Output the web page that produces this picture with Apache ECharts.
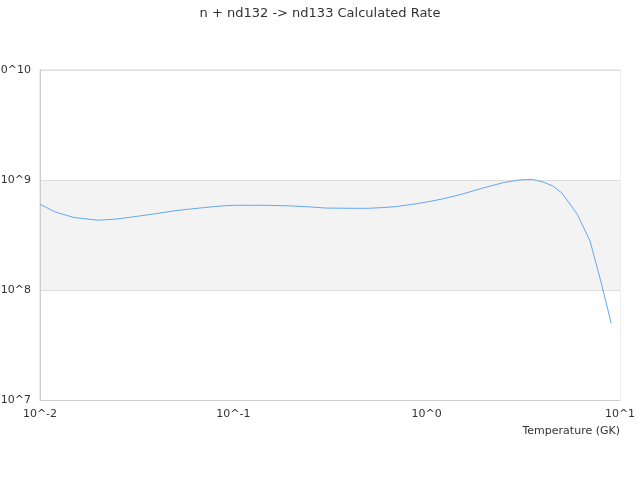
<!DOCTYPE html>
<html>
<head>
<meta charset="utf-8">
<script src="https://cdn.jsdelivr.net/npm/echarts@6/dist/echarts.min.js"></script>
<style>
  html, body { margin: 0; padding: 0; background: #fff; }
  #container { width: 640px; height: 480px; }
</style>
</head>
<body>
<div id="container"></div>
<script>
var chartTitle = 'n + nd132 -> nd133 Calculated Rate';
var xName = 'Temperature (GK)';

// temperature grid (GK) and the rate read at each one
var temps = [0.01, 0.012, 0.015, 0.02, 0.025, 0.03, 0.04, 0.05, 0.06, 0.07, 0.08, 0.09,
  0.1, 0.12, 0.15, 0.2, 0.25, 0.3, 0.4, 0.5, 0.6, 0.7, 0.8, 0.9,
  1, 1.2, 1.5, 2, 2.5, 3, 3.5, 4, 4.5, 5, 6, 7, 8, 9];
var rates = [6.01e8, 5.12e8, 4.56e8, 4.31e8, 4.42e8, 4.61e8, 4.95e8, 5.26e8, 5.45e8, 5.60e8, 5.74e8, 5.83e8,
  5.89e8, 5.89e8, 5.89e8, 5.81e8, 5.69e8, 5.56e8, 5.53e8, 5.53e8, 5.62e8, 5.74e8, 5.93e8, 6.11e8,
  6.31e8, 6.71e8, 7.38e8, 8.55e8, 9.48e8, 1.0e9, 1.014e9, 9.59e8, 8.81e8, 7.62e8, 4.91e8, 2.79e8, 1.16e8, 5.0e7];

var dom = document.getElementById('container');
var myChart = echarts.init(dom);

function powLabel(v) {
  return '10^' + Math.round(Math.log(v) / Math.LN10);
}

var points = [];
for (var i = 0; i < temps.length; i++) {
  points.push([temps[i], rates[i]]);
}

var option = {
  animation: false,
  backgroundColor: '#fff',
  textStyle: { fontFamily: 'DejaVu Sans' },
  title: {
    text: chartTitle,
    left: 'center',
    top: 2,
    textStyle: { fontSize: 13, fontWeight: 'normal', color: '#333', fontFamily: 'DejaVu Sans' }
  },
  grid: {
    left: 40, right: 20, top: 70, bottom: 80,
    containLabel: false,
    outerBoundsMode: 'none',
    show: true, borderColor: '#ddd', borderWidth: 1
  },
  xAxis: {
    type: 'log',
    logBase: 10,
    min: 0.01,
    max: 10,
    name: xName,
    nameLocation: 'end',
    nameGap: 0,
    nameTextStyle: { color: '#333', fontSize: 11, align: 'right', verticalAlign: 'top', padding: [26, 0, 0, 0] },
    axisLine: { lineStyle: { color: '#ccc' } },
    axisTick: { show: false },
    axisLabel: { color: '#333', fontSize: 11, margin: 9, formatter: powLabel },
    splitLine: { show: false }
  },
  yAxis: {
    type: 'log',
    logBase: 10,
    min: 1e7,
    max: 1e10,
    axisLine: { show: true, lineStyle: { color: '#ccc' } },
    axisTick: { show: false },
    axisLabel: { color: '#333', fontSize: 11, margin: 9, formatter: powLabel },
    splitLine: { show: true, lineStyle: { color: '#ddd' } },
    splitArea: { show: true, areaStyle: { color: ['#ffffff', '#f3f3f3'] } }
  },
  series: [{
    type: 'line',
    data: points,
    showSymbol: false,
    symbol: 'none',
    lineStyle: { color: '#64a8f0', width: 1 },
    itemStyle: { color: '#64a8f0' }
  }]
};

myChart.setOption(option);
</script>
</body>
</html>
